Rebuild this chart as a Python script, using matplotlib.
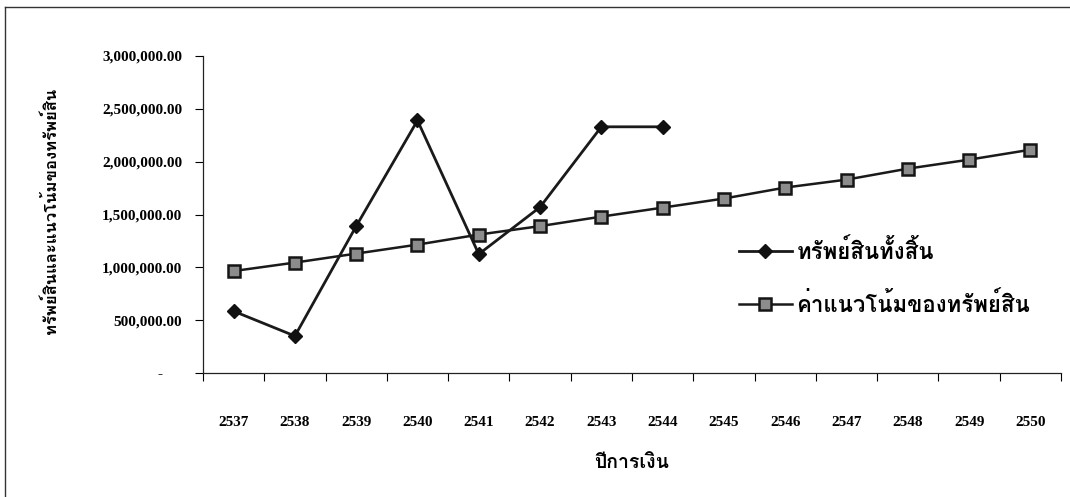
import numpy as np
import matplotlib
matplotlib.use('Agg')
import matplotlib.pyplot as plt
import matplotlib.ticker as mticker
from matplotlib import font_manager
from matplotlib.lines import Line2D

# look for any installed font that has Thai glyphs
def find_thai_font():
    try:
        from fontTools.ttLib import TTFont
    except ImportError:
        return None
    for fe in font_manager.fontManager.ttflist:
        try:
            f = TTFont(fe.fname, fontNumber=0, lazy=True)
            cmap = f.getBestCmap()
            if cmap and 0x0E17 in cmap and 0x0E34 in cmap:
                return fe.name
        except Exception:
            continue
    return None

thai = find_thai_font()
serif = 'Liberation Serif'
fam_thai = [thai, serif, 'DejaVu Sans'] if thai else [serif, 'DejaVu Sans']

years = ['2537', '2538', '2539', '2540', '2541', '2542', '2543',
         '2544', '2545', '2546', '2547', '2548', '2549', '2550']
total_assets = [585000, 350000, 1390000, 2390000, 1125000, 1570000,
                2330000, 2330000]
trend = [965000, 1045000, 1130000, 1215000, 1310000, 1390000, 1480000,
         1565000, 1651000, 1755000, 1830000, 1934000, 2019000, 2113000]

lab_total = 'ทรัพย์สินทั้งสิ้น'
lab_trend = 'ค่าแนวโน้มของทรัพย์สิน'
xlab = 'ปีการเงิน'
ylab = 'ทรัพย์สินและแนวโน้มของทรัพย์สิน'

fig = plt.figure(figsize=(10.7, 4.97), dpi=100)
ax = fig.add_axes([0.1897, 0.2495, 0.8019, 0.6378])

x = np.arange(len(years))
ax.plot(x[:len(total_assets)], total_assets, color='#1a1a1a', lw=2.0,
        marker='D', ms=6.8, mfc='#111111', mec='#111111', label=lab_total)
ax.plot(x, trend, color='#1a1a1a', lw=1.8, marker='s', ms=8.8,
        mfc='#8c8c8c', mec='#151515', mew=1.8, label=lab_trend)

ax.set_xlim(-0.5, len(years) - 0.5)
ax.set_ylim(0, 3000000)

for s in ['top', 'right']:
    ax.spines[s].set_visible(False)
for s in ['left', 'bottom']:
    ax.spines[s].set_linewidth(0.9)
    ax.spines[s].set_color('#222222')

# category axis: tick marks between categories, labels at centres
ax.xaxis.set_major_locator(mticker.FixedLocator(np.arange(-0.5, len(years), 1.0)))
ax.xaxis.set_major_formatter(mticker.NullFormatter())
ax.xaxis.set_minor_locator(mticker.FixedLocator(x))
ax.xaxis.set_minor_formatter(mticker.FixedFormatter(years))
ax.tick_params(axis='x', which='major', direction='out', length=6, width=0.8)
ax.tick_params(axis='x', which='minor', length=0, pad=31)

def yfmt(v, pos):
    if v == 0:
        return '-     '
    return '{:,.2f}'.format(v)

ax.yaxis.set_major_locator(mticker.MultipleLocator(500000))
ax.yaxis.set_major_formatter(mticker.FuncFormatter(yfmt))
ax.tick_params(axis='y', direction='out', length=6, width=0.8, pad=9)

for t in ax.get_xticklabels(minor=True) + ax.get_yticklabels():
    t.set_fontfamily(serif)
    t.set_fontweight('bold')
    t.set_fontsize(11)

ax.set_xlabel(xlab, family=fam_thai, fontsize=14, fontweight='bold')
ax.xaxis.set_label_coords(0.5, -0.255)
ax.set_ylabel(ylab, family=fam_thai, fontsize=12, fontweight='bold')
ax.yaxis.set_label_coords(-0.168, 0.512)

leg = ax.legend(loc='upper left', bbox_to_anchor=(0.601, 0.49), frameon=False,
                handlelength=2.4, handletextpad=0.2, labelspacing=1.3,
                prop={'family': fam_thai, 'size': 16, 'weight': 'bold'})

# page frame from the scan
fig.add_artist(Line2D([0.005, 1.0], [0.986, 0.986], color='#333333', lw=1.0))
fig.add_artist(Line2D([0.005, 0.005], [0.0, 0.986], color='#333333', lw=1.0))

fig.savefig('out.png', dpi=100)
